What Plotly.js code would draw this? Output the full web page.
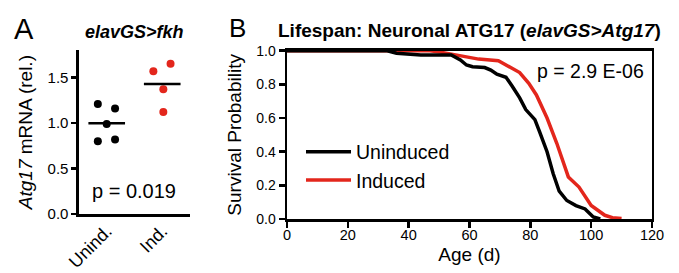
<!DOCTYPE html>
<html><head><meta charset="utf-8">
<script src="https://cdn.plot.ly/plotly-3.0.1.min.js"></script>
<style>html,body{margin:0;padding:0;background:#fff;} #chart{width:679px;height:273px;}</style>
</head><body><div id="chart"></div>
<script>
// Panel A: elavGS>fkh, Atg17 mRNA
const groups = ['Unind.', 'Ind.'];
const unindValues = [1.21, 1.16, 0.99, 0.80, 0.82];
const unindOffsets = [-0.16, 0.15, 0, -0.16, 0.15];
const indValues = [1.57, 1.65, 1.37, 1.12];
const indOffsets = [-0.16, 0.15, 0.02, 0.02];
const mrnaTicks = [0, 0.5, 1.0, 1.5];
const pValueA = 'p = 0.019';

// Panel B: lifespan survival curves
const uninducedAge  = [0, 33, 36, 44, 54, 57, 59, 61, 65, 67, 69, 72, 74, 76.5, 78.5, 81.5, 83, 85.5, 87.5, 89.5, 92, 95, 98, 99.5, 100.7, 103];
const uninducedSurv = [1.0, 1.0, 0.985, 0.975, 0.975, 0.945, 0.915, 0.905, 0.90, 0.885, 0.86, 0.842, 0.79, 0.72, 0.65, 0.59, 0.52, 0.40, 0.27, 0.165, 0.11, 0.08, 0.06, 0.03, 0.012, 0.0];
const inducedAge  = [0, 47, 51, 57, 63, 69.5, 71, 73, 76.5, 79.5, 82, 85.5, 88.7, 92.5, 96, 100, 104.5, 107, 110];
const inducedSurv = [1.0, 1.0, 0.99, 0.968, 0.95, 0.94, 0.925, 0.90, 0.87, 0.806, 0.737, 0.60, 0.45, 0.25, 0.19, 0.08, 0.022, 0.008, 0.003];
const ageTicks = [0, 20, 40, 60, 80, 100, 120];
const survTicks = [0, 0.2, 0.4, 0.6, 0.8, 1.0];
const pValueB = 'p = 2.9 E-06';

const RED = '#e3261c';
const BLK = '#000000';
const FONT = 'Liberation Sans, Arial, Helvetica, sans-serif';

function mean(a){ return a.reduce((s,v)=>s+v,0)/a.length; }

const traces = [
  { type:'scatter', mode:'markers', x: unindOffsets.map(o=>0+o), y: unindValues,
    marker:{color:BLK, size:8}, xaxis:'x', yaxis:'y', showlegend:false, hoverinfo:'skip' },
  { type:'scatter', mode:'markers', x: indOffsets.map(o=>1+o), y: indValues,
    marker:{color:RED, size:8}, xaxis:'x', yaxis:'y', showlegend:false, hoverinfo:'skip' },
  { type:'scatter', mode:'lines', x:[-0.33, 0.33], y:[mean(unindValues), mean(unindValues)],
    line:{color:BLK, width:2.5}, xaxis:'x', yaxis:'y', showlegend:false, hoverinfo:'skip' },
  { type:'scatter', mode:'lines', x:[1-0.33, 1+0.33], y:[mean(indValues), mean(indValues)],
    line:{color:BLK, width:2.5}, xaxis:'x', yaxis:'y', showlegend:false, hoverinfo:'skip' },
  { type:'scatter', mode:'lines', name:'Induced', x: inducedAge, y: inducedSurv,
    line:{color:RED, width:3.5}, xaxis:'x2', yaxis:'y2', legendrank:2 },
  { type:'scatter', mode:'lines', name:'Uninduced', x: uninducedAge, y: uninducedSurv,
    line:{color:BLK, width:3.5}, xaxis:'x2', yaxis:'y2', legendrank:1 }
];

const axCommon = { showgrid:false, zeroline:false, showline:true, linecolor:BLK, linewidth:2.5,
  tickcolor:BLK, tickwidth:2.5, fixedrange:true };

const layout = {
  width:679, height:273,
  margin:{l:0, r:0, t:0, b:0},
  paper_bgcolor:'#fff', plot_bgcolor:'rgba(0,0,0,0)',
  font:{family:FONT, color:BLK},
  showlegend:true,
  legend:{x:301/679, y:0.5146, xanchor:'left', yanchor:'top', bgcolor:'rgba(0,0,0,0)',
    font:{size:19.5, family:FONT, color:BLK}, itemwidth:45, tracegroupgap:0},
  xaxis: Object.assign({}, axCommon, {
    domain:[0.1163, 0.2798], range:[-0.5, 1.5], tickmode:'array', tickvals:[0,1], ticktext:groups,
    ticks:'', tickangle:-45, tickfont:{size:18}, ticklabelstandoff:-3, anchor:'y' }),
  yaxis: Object.assign({}, axCommon, {
    domain:[0.2161, 0.8161], range:[0, 1.8], tickmode:'array', tickvals:mrnaTicks, tickformat:'.1f',
    ticks:'outside', ticklen:5, tickfont:{size:15}, anchor:'x',
    title:{text:'<i>Atg17</i> mRNA (rel.)', font:{size:19}, standoff:10} }),
  xaxis2: Object.assign({}, axCommon, {
    domain:[0.4227, 0.9602], range:[0, 120], tickmode:'array', tickvals:ageTicks,
    ticks:'outside', ticklen:6, mirror:true, tickfont:{size:14.5}, ticklabelstandoff:-5, anchor:'y2',
    title:{text:'Age (d)', font:{size:19}, standoff:6} }),
  yaxis2: Object.assign({}, axCommon, {
    domain:[0.1978, 0.8143], range:[0, 1], tickmode:'array', tickvals:survTicks, tickformat:'.1f',
    ticks:'outside', ticklen:6, mirror:true, tickfont:{size:14}, anchor:'x2',
    title:{text:'Survival Probability', font:{size:19}, standoff:10} }),
  annotations:[
    { text:'A', xref:'paper', yref:'paper', x:24/679, y:0.8949, xanchor:'center', yanchor:'middle',
      showarrow:false, font:{size:29} },
    { text:'<b><i>elavGS&gt;fkh</i></b>', xref:'paper', yref:'paper', x:134.7/679, y:0.8839,
      xanchor:'center', yanchor:'middle', showarrow:false, font:{size:18} },
    { text:'B', xref:'paper', yref:'paper', x:238/679, y:0.8963, xanchor:'center', yanchor:'middle',
      showarrow:false, font:{size:26} },
    { text:'<b>Lifespan: Neuronal ATG17 (<i>elavGS&gt;Atg17</i>)</b>', xref:'paper', yref:'paper',
      x:469/679, y:0.8868, xanchor:'center', yanchor:'middle', showarrow:false, font:{size:19} },
    { text:pValueA, xref:'x', yref:'y', x:0.5, y:0.25, xanchor:'center', yanchor:'middle',
      showarrow:false, font:{size:20} },
    { text:pValueB, xref:'x2', yref:'y2', x:99.8, y:0.882, xanchor:'center', yanchor:'middle',
      showarrow:false, font:{size:19.5} }
  ]
};

Plotly.newPlot('chart', traces, layout, {displayModeBar:false, staticPlot:true});
</script>
</body></html>
